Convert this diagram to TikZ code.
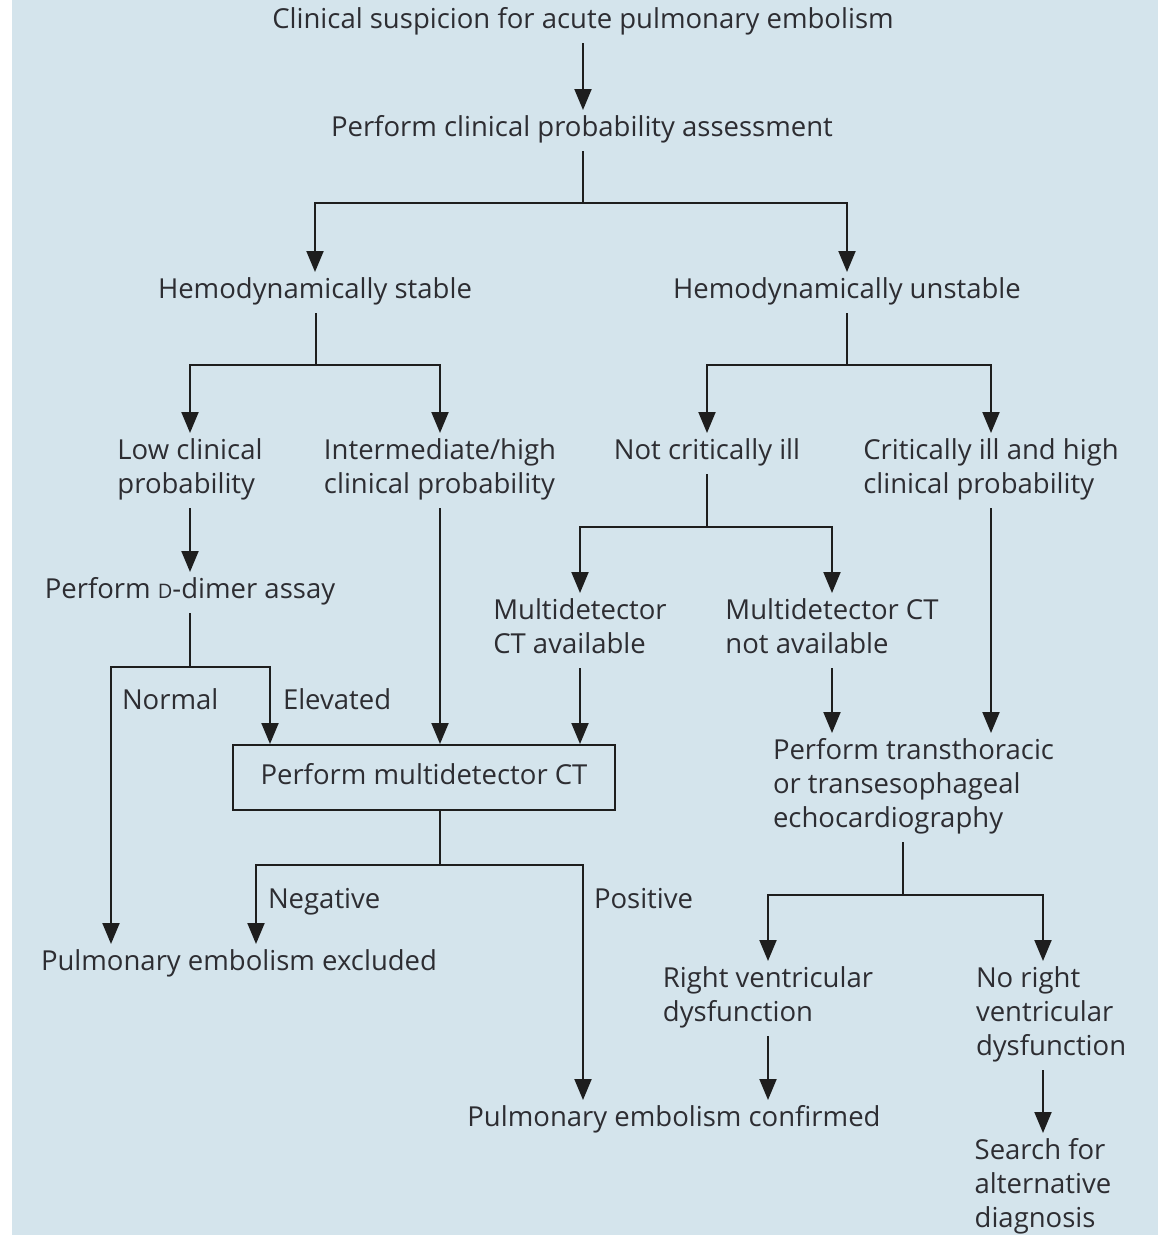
\documentclass[tikz,border=0pt]{standalone}
\usepackage{fontspec}
\setmainfont{Open Sans}
\usetikzlibrary{arrows.meta}
\definecolor{bg}{RGB}{212,228,236}
\definecolor{ink}{RGB}{30,30,30}
\definecolor{txtc}{RGB}{45,45,50}
\begin{document}
\begin{tikzpicture}[x=1pt,y=-1pt,
  base/.style={inner sep=0pt,outer sep=0pt,align=left,text=txtc,font=\fontsize{27.5}{34}\selectfont},
  txt/.style={base,yshift=-2pt},
  ln/.style={draw=ink,line width=2pt},
  arr/.style={ln,-{Triangle[length=21pt,width=17pt]},shorten >=3pt},
  fromnode/.style={shorten <=4pt}]
\useasboundingbox (0,0) rectangle (1158,1235);
\fill[white] (0,0) rectangle (1158,1235);
\fill[bg] (12,0) rectangle (1158,1235);

% nodes
\node[txt,anchor=north] (clin) at (583,3) {\strut Clinical suspicion for acute pulmonary embolism};
\node[txt,anchor=north] (prob) at (582,111) {\strut Perform clinical probability assessment};
\node[txt,anchor=north] (stab) at (315,273) {\strut Hemodynamically stable};
\node[txt,anchor=north] (unst) at (847,273) {\strut Hemodynamically unstable};
\node[txt,anchor=north] (lowc) at (190,434) {\strut Low clinical\\\strut probability};
\node[txt,anchor=north] (inter) at (440,434) {\strut Intermediate/high\\\strut clinical probability};
\node[txt,anchor=north] (notc) at (707,434) {\strut Not critically ill};
\node[txt,anchor=north] (crit) at (991,434) {\strut Critically ill and high\\\strut clinical probability};
\node[txt,anchor=north] (ddim) at (190,573) {\strut Perform {\fontsize{20}{34}\selectfont D}-dimer assay};
\node[txt,anchor=north] (mdav) at (580,594) {\strut Multidetector\\\strut CT available};
\node[txt,anchor=north] (mdna) at (832,594) {\strut Multidetector CT\\\strut not available};
\node[txt,anchor=north west] (norm) at (122,684) {\strut Normal};
\node[txt,anchor=north west] (elev) at (283,684) {\strut Elevated};
\node[base,draw=ink,line width=2pt,minimum width=382pt,minimum height=65pt,align=center] (ct) at (424,777.5) {\strut Perform multidetector CT};
\node[txt,anchor=north west] (echo) at (773,734) {\strut Perform transthoracic\\\strut or transesophageal\\\strut echocardiography};
\node[txt,anchor=north west] (neg) at (268,883) {\strut Negative};
\node[txt,anchor=north west] (pos) at (594,883) {\strut Positive};
\node[txt,anchor=north] (excl) at (239,945) {\strut Pulmonary embolism excluded};
\node[txt,anchor=north] (rvd) at (768,962) {\strut Right ventricular\\\strut dysfunction};
\node[txt,anchor=north west] (norvd) at (976,962) {\strut No right\\\strut ventricular\\\strut dysfunction};
\node[txt,anchor=north] (conf) at (674,1101) {\strut Pulmonary embolism confirmed};
\node[txt,anchor=north] (srch) at (1043,1134) {\strut Search for\\\strut alternative\\\strut diagnosis};

% junctions
\coordinate (j1) at (583,203);
\coordinate (j2) at (316,365);
\coordinate (j3) at (847,365);
\coordinate (jd) at (190,667);
\coordinate (cN) at (111,667);
\coordinate (cE) at (270,667);
\coordinate (j4) at (707,527);
\coordinate (j6) at (440,865);
\coordinate (cNg) at (256,865);
\coordinate (cPs) at (583,865);
\coordinate (j5) at (903,895);
\coordinate (nrTop) at (srch.north |- norvd.north);

% connectors
\draw[arr,fromnode] (clin.south) -- (clin.south |- prob.north);
\draw[ln,fromnode] (prob.south -| j1) -- (j1);
\draw[arr] (j1) -| (stab.north);
\draw[arr] (j1) -| (unst.north);
\draw[ln,fromnode] (stab.south -| j2) -- (j2);
\draw[arr] (j2) -| (lowc.north);
\draw[arr] (j2) -| (inter.north);
\draw[ln,fromnode] (unst.south) -- (j3);
\draw[arr] (j3) -| (notc.north);
\draw[arr] (j3) -| (crit.north);
\draw[arr,fromnode] (lowc.south) -- (ddim.north);
\draw[ln,fromnode] (ddim.south) -- (jd);
\draw[arr] (jd) -- (cN) -- (cN |- excl.north);
\draw[arr,shorten >=1pt] (jd) -- (cE) -- (cE |- ct.north);
\draw[arr,fromnode,shorten >=1pt] (inter.south) -- (inter.south |- ct.north);
\draw[ln,fromnode] (notc.south) -- (j4);
\draw[arr] (j4) -| (mdav.north);
\draw[arr] (j4) -| (mdna.north);
\draw[arr,fromnode,shorten >=1pt] (mdav.south) -- (mdav.south |- ct.north);
\draw[arr,fromnode] (mdna.south) -- (mdna.south |- echo.north);
\draw[arr,fromnode] (crit.south) -- (crit.south |- echo.north);
\draw[ln] (ct.south -| j6) -- (j6);
\draw[arr] (j6) -- (cNg) -- (cNg |- excl.north);
\draw[arr] (j6) -- (cPs) -- (cPs |- conf.north);
\draw[ln,fromnode] (echo.south -| j5) -- (j5);
\draw[arr] (j5) -| (rvd.north);
\draw[arr] (j5) -| (nrTop);
\draw[arr,fromnode] (rvd.south) -- (rvd.south |- conf.north);
\draw[arr,fromnode] (norvd.south -| srch.north) -- (srch.north);
\end{tikzpicture}
\end{document}
